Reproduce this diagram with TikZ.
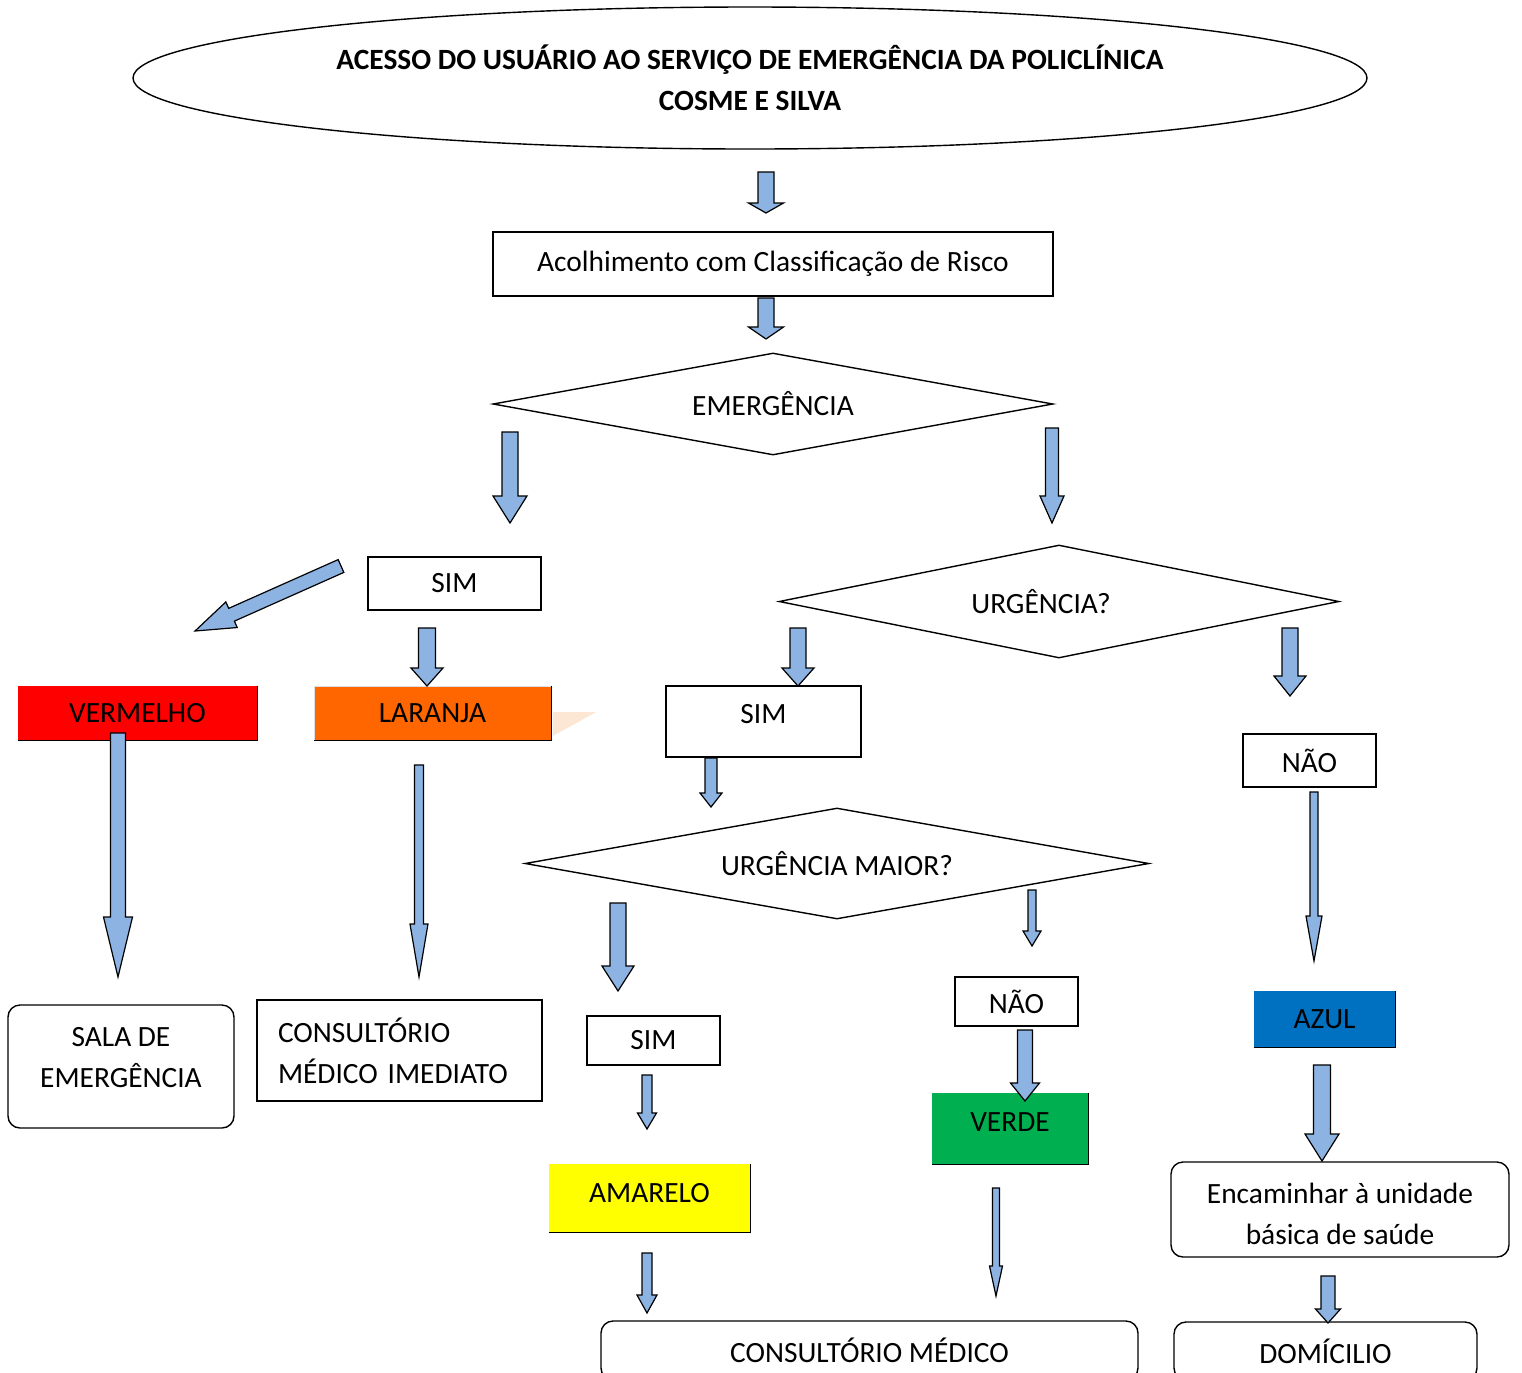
\documentclass[tikz,border=0pt]{standalone}
\usepackage{fontspec}
\setmainfont{Carlito}
\usepackage{tikz}
\usetikzlibrary{positioning, calc, shapes.geometric}
\definecolor{nArrow}{HTML}{8DB3E2}
\definecolor{nRed}{HTML}{FF0000}
\definecolor{nOrange}{HTML}{FF6600}
\definecolor{nPeach}{HTML}{FCE6D4}
\definecolor{nYellow}{HTML}{FFFF00}
\definecolor{nGreen}{HTML}{00B050}
\definecolor{nBlue}{HTML}{0070C0}
\tikzset{
  txt/.style={font=\fontsize{14.7}{20.5}\selectfont, align=center, inner sep=0pt},
  box/.style={txt, draw, line width=0.7pt},
  rbox/.style={box, rounded corners=6pt},
  ask/.style={txt, diamond, aspect=5.5, draw, line width=0.7pt},
  tag/.style={txt},
  blk/.style={draw=black, fill=nArrow, line width=0.6pt}
}
% block arrow: tail, tip, shaft half width, head half width, head length (px)
\newcommand{\blkarrow}[5]{%
  \coordinate (hb) at ($(#2)!#5*0.5pt!(#1)$);
  \draw[blk] ($(#1)!#3*0.5pt!90:(#2)$) -- ($(hb)!#3*0.5pt!90:(#2)$)
    -- ($(hb)!#4*0.5pt!90:(#2)$) -- (#2) -- ($(hb)!#4*0.5pt!-90:(#2)$)
    -- ($(hb)!#3*0.5pt!-90:(#2)$) -- ($(#1)!#3*0.5pt!-90:(#2)$) -- cycle;}

\begin{document}
\begin{tikzpicture}[x=0.5pt, y=-0.5pt]
  \useasboundingbox (0,0) rectangle (1522,1372);
  \node[ellipse, draw, line width=0.7pt, minimum width=617pt, minimum height=71pt, inner sep=0pt, align=center,
        font=\bfseries\fontsize{14.7}{20.5}\selectfont] (title) at (750,78)
        {ACESSO DO USUÁRIO AO SERVIÇO DE EMERGÊNCIA DA POLICLÍNICA\\COSME E SILVA};
  \node[box, minimum width=280pt, minimum height=32pt] (acolh) at (773,264) {Acolhimento com Classificação de Risco};
  \node[ask, minimum width=280pt, minimum height=51pt] (emerg) at (773,404) {EMERGÊNCIA};
  \node[box, minimum width=86.5pt, minimum height=26.5pt] (sim1) at (454.5,583.5) {SIM};
  \node[tag, fill=nRed, minimum width=119.5pt, minimum height=27pt] (verm) at (137.5,713) {VERMELHO};
  \fill[nPeach] (553,712) -- (596,712) -- (553,736) -- cycle;
  \node[tag, fill=nOrange, draw=gray!25, minimum width=118.5pt, minimum height=27pt] (lar) at (432.5,713) {LARANJA};
  \node[rbox, minimum width=113pt, minimum height=61.5pt, text depth=9.5pt] (sala) at (121,1066.5) {SALA DE\\EMERGÊNCIA};
  \node[box, minimum width=142.5pt, minimum height=50.5pt, text width=121.5pt, inner xsep=10.5pt, align=left]
        (cmi) at (399.5,1050.5) {CONSULTÓRIO\\MÉDICO IMEDIATO};
  \node[ask, aspect=5, minimum width=280pt, minimum height=56.5pt] (urg) at (1059,601.5) {URGÊNCIA?\hspace{18pt}};
  \node[box, minimum width=97.5pt, minimum height=35.5pt, text depth=7.5pt] (sim2) at (763.5,721.5) {SIM};
  \node[box, minimum width=66.5pt, minimum height=26.5pt] (nao1) at (1309.5,760.5) {NÃO};
  \node[ask, aspect=5.6, minimum width=312pt, minimum height=55.5pt] (urgm) at (837,863.5) {URGÊNCIA MAIOR?};
  \node[box, minimum width=66.5pt, minimum height=24.5pt] (sim3) at (653.5,1040.5) {SIM};
  \node[box, minimum width=61.5pt, minimum height=24.5pt] (nao2) at (1016.5,1001.5) {NÃO};
  \node[tag, fill=nYellow, minimum width=100.5pt, minimum height=34pt, text depth=5pt] (amar) at (649.5,1198) {AMARELO};
  \node[tag, fill=nGreen, minimum width=78pt, minimum height=35.5pt, text depth=6.5pt] (verde) at (1010,1128.5) {VERDE};
  \node[tag, fill=nBlue, minimum width=70.5pt, minimum height=28pt] (azul) at (1324.5,1019) {AZUL};
  \node[rbox, minimum width=169pt, minimum height=47.5pt, text height=35.5pt] (encam) at (1340,1209.5) {Encaminhar à unidade\\básica de saúde};
  \node[rbox, minimum width=151.5pt, minimum height=29pt] (domic) at (1325.5,1351) {DOMÍCILIO};
  \node[rbox, minimum width=268.5pt, minimum height=29.5pt] (cmed) at (869.5,1350.5) {CONSULTÓRIO MÉDICO};
  \foreach \n in {verm,lar,amar,verde,azul}
    {\draw[line width=0.6pt] (\n.north east) -- (\n.south east) -- (\n.south west);}
  % arrows
  \foreach \x/\ya/\yb/\w/\hw/\hl in {766/172/213/8/17.5/10, 766/298/339/8/17.5/12, 510/432/523/8/17/27,
      1052/428/523/6.5/12/27, 427/628/686/8.5/16/18, 118/733/977/7.5/14.5/60, 419/765/977/4.5/9/53,
      798/628/686/8/16/18, 1290/628/696/8/16/20, 711/758/807/6/11/14, 1314/792/961/4/8/45,
      618/903/991/8/16/25, 1032/890/946/4/9/15, 647/1075/1129/5/9.5/16, 1025/1030/1101/7.5/14.5/18,
      996/1188/1296/3.5/6.5/30, 647/1253/1313/5/10/18, 1322/1065/1161/8.5/17/27, 1328/1276/1323/7/12.5/14}
    {\coordinate (tail) at (\x,\ya);
     \coordinate (tip) at (\x,\yb);
     \blkarrow{tail}{tip}{\w}{\hw}{\hl}}
  \coordinate (dtail) at (341,566);
  \coordinate (dtip) at (195,631);
  \blkarrow{dtail}{dtip}{7}{14}{40}
\end{tikzpicture}
\end{document}
